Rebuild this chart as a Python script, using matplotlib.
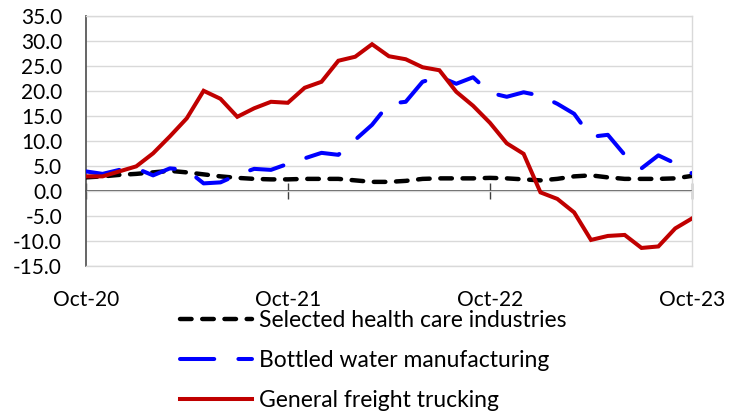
import numpy as np
import matplotlib.pyplot as plt

# Monthly values, Oct-20 .. Oct-23 (37 months)
health = [2.7, 2.9, 3.2, 3.4, 3.7, 4.0, 3.7, 3.3, 2.9, 2.6,
          2.4, 2.3, 2.3, 2.4, 2.4, 2.4, 2.1, 1.8, 1.8, 2.0,
          2.4, 2.5, 2.5, 2.5, 2.6, 2.5, 2.3, 2.1, 2.4, 2.9,
          3.1, 2.7, 2.4, 2.4, 2.4, 2.5, 3.0]
water = [3.9, 3.4, 4.2, 4.5, 3.1, 4.5, 4.2, 1.5, 1.7, 3.2,
         4.4, 4.2, 5.4, 6.5, 7.6, 7.2, 10.2, 13.2, 17.4, 17.8,
         21.8, 22.8, 21.4, 22.7, 19.6, 18.8, 19.7, 19.0, 17.4, 15.4,
         10.8, 11.2, 7.2, 4.5, 7.1, 5.5, 3.5]
trucking = [2.9, 2.9, 3.9, 4.9, 7.5, 10.9, 14.5, 20.0, 18.4, 14.8,
            16.5, 17.8, 17.6, 20.6, 21.8, 26.0, 26.8, 29.3, 26.9, 26.3,
            24.7, 24.1, 19.8, 17.0, 13.6, 9.5, 7.4, -0.3, -1.6, -4.3,
            -9.8, -9.0, -8.8, -11.4, -11.1, -7.5, -5.5]
tick_labels = ['Oct-20', 'Oct-21', 'Oct-22', 'Oct-23']
series_names = ['Selected health care industries',
                'Bottled water manufacturing',
                'General freight trucking']

plt.rcParams['font.family'] = ['Lato', 'DejaVu Sans']

months = np.arange(len(health))

fig = plt.figure(figsize=(7.37, 4.13), dpi=100)
ax = fig.add_axes([0.1163, 0.356, 0.8227, 0.606])

ax.plot(months, health, color='black', lw=3.2, dashes=(2.6, 2.4),
        dash_capstyle='round', label=series_names[0], zorder=3)
ax.plot(months, water, color='#0000FF', lw=2.9, dashes=(8.5, 6),
        dash_capstyle='round', label=series_names[1], zorder=4)
ax.plot(months, trucking, color='#C00000', lw=2.9,
        solid_joinstyle='miter', label=series_names[2], zorder=5)

ax.set_xlim(0, 36)
ax.set_ylim(-15, 35)
ax.set_yticks(np.arange(-15, 36, 5))
ax.set_yticklabels([f'{v:.1f}' for v in np.arange(-15, 36, 5)])
ax.set_xticks([0, 12, 24, 36])
ax.set_xticklabels(tick_labels)
ax.tick_params(axis='both', length=0, labelsize=15, colors='black')
ax.tick_params(axis='x', pad=17)
ax.tick_params(axis='y', pad=17)

ax.grid(axis='y', color='#D9D9D9', lw=1)
ax.set_axisbelow(True)
for s in ['top', 'right', 'bottom']:
    ax.spines[s].set_color('#D9D9D9')
    ax.spines[s].set_linewidth(1)
ax.spines['left'].set_color('#595959')
ax.spines['left'].set_linewidth(1.3)

# zero line with tick marks
zero = ax.secondary_xaxis(0.3)
zero.set_xticks([0, 12, 24, 36])
zero.tick_params(direction='inout', length=12, width=1, color='#404040',
                 labelbottom=False)
zero.spines['bottom'].set_color('#404040')
zero.spines['bottom'].set_linewidth(1.2)

fig.legend(loc='upper left', bbox_to_anchor=(180 / 737, 1 - 310 / 413),
           frameon=False, fontsize=16.5, handlelength=3.15, handletextpad=0.3,
           labelspacing=0.83, borderpad=0, borderaxespad=0)

fig.savefig('out.png', dpi=100)
